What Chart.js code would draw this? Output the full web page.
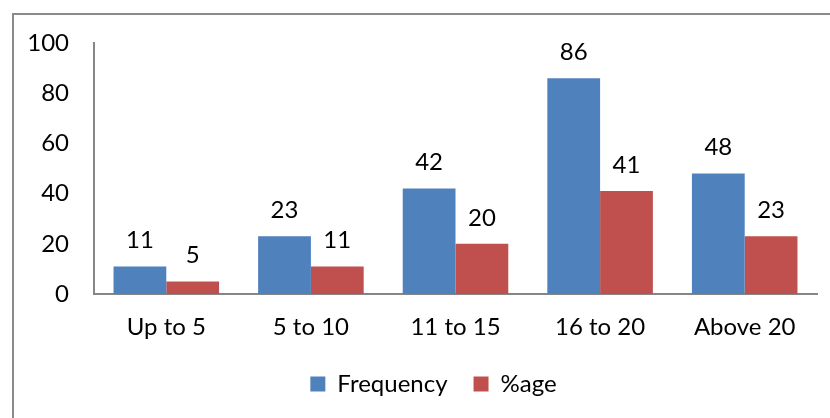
<!DOCTYPE html>
<html>
<head>
<meta charset="utf-8">
<script src="https://cdn.jsdelivr.net/npm/chart.js@4/dist/chart.umd.min.js"></script>
<style>
  html, body { margin: 0; padding: 0; background: #fff; }
  #wrap { width: 830px; height: 418px; position: relative; }
</style>
</head>
<body>
<div id="wrap"><canvas id="c" width="830" height="418"></canvas></div>
<script>
// Experience groups (years) and the two series per group
const categories = ['Up to 5', '5 to 10', '11 to 15', '16 to 20', 'Above 20'];
const frequency = [11, 23, 42, 86, 48];
const percentage = [5, 11, 20, 41, 23];
const yTicks = [0, 20, 40, 60, 80, 100];

const FONT = 'Lato, "Open Sans", sans-serif';
const FONT_SIZE = 24;
const AXIS_GRAY = '#868686';

// Outer frame around the chart
const framePlugin = {
  id: 'frame',
  beforeDraw(chart) {
    const ctx = chart.ctx;
    ctx.save();
    ctx.fillStyle = '#fff';
    ctx.fillRect(0, 0, chart.width, chart.height);
    ctx.strokeStyle = '#8a8a8a';
    ctx.lineWidth = 2;
    ctx.strokeRect(13, 14, chart.width + 20, chart.height + 20);
    ctx.restore();
  }
};

// Centre the legend under the plot rather than the whole canvas
const legendShift = {
  id: 'legendShift',
  afterLayout(chart) {
    if (chart.legend) chart.legend.left += 50;
  }
};

// Value written above each bar
const valueLabels = {
  id: 'valueLabels',
  afterDatasetsDraw(chart) {
    const ctx = chart.ctx;
    ctx.save();
    ctx.font = FONT_SIZE + 'px ' + FONT;
    ctx.fillStyle = '#000';
    ctx.textAlign = 'center';
    ctx.textBaseline = 'middle';
    chart.data.datasets.forEach((ds, i) => {
      chart.getDatasetMeta(i).data.forEach((bar, j) => {
        ctx.fillText(String(ds.data[j]), bar.x, bar.y - 26);
      });
    });
    ctx.restore();
  }
};

new Chart(document.getElementById('c'), {
  type: 'bar',
  data: {
    labels: categories,
    datasets: [
      { label: 'Frequency', data: frequency, backgroundColor: '#4F81BD' },
      { label: '%age', data: percentage, backgroundColor: '#C0504D' }
    ]
  },
  options: {
    responsive: false,
    animation: false,
    devicePixelRatio: 1,
    layout: { padding: { top: 43, right: 13, bottom: 12, left: 0 } },
    datasets: { bar: { categoryPercentage: 0.73, barPercentage: 1.0 } },
    scales: {
      x: {
        grid: { display: false, drawTicks: false },
        border: { display: true, color: AXIS_GRAY, width: 2 },
        ticks: { color: '#000', font: { family: FONT, size: FONT_SIZE }, padding: 19, maxRotation: 0 },
        afterFit(scale) { scale.height = 52; }
      },
      y: {
        min: 0, max: 100,
        grid: { display: false, drawTicks: false },
        border: { display: true, color: AXIS_GRAY, width: 2 },
        afterBuildTicks(scale) { scale.ticks = yTicks.map(v => ({ value: v })); },
        ticks: { color: '#000', font: { family: FONT, size: FONT_SIZE }, padding: 25 },
        afterFit(scale) { scale.width = 94; }
      }
    },
    plugins: {
      legend: {
        position: 'bottom',
        labels: {
          color: '#000',
          font: { family: FONT, size: FONT_SIZE },
          boxWidth: 15, boxHeight: 15,
          padding: 26
        }
      },
      tooltip: { enabled: false }
    }
  },
  plugins: [framePlugin, legendShift, valueLabels]
});
</script>
</body>
</html>
